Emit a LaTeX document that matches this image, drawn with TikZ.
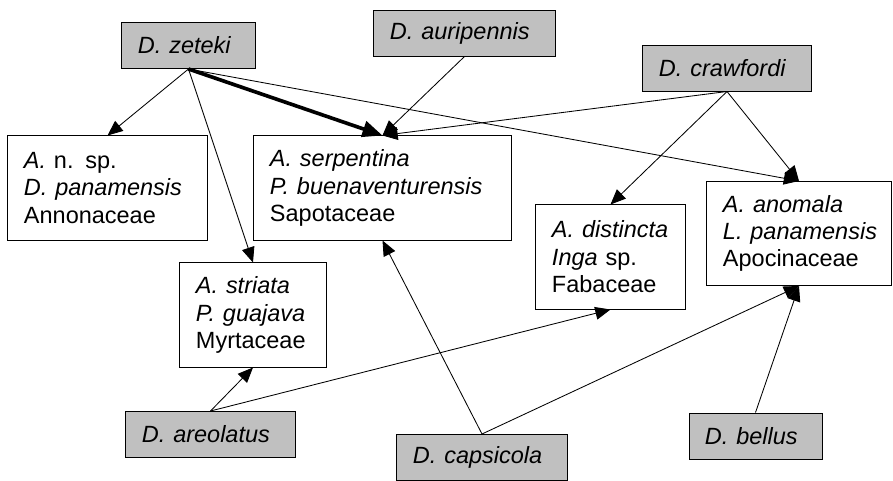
\documentclass[tikz,border=0pt]{standalone}
\usepackage{fontspec}
\setmainfont{Liberation Sans}
\usetikzlibrary{arrows.meta}

\definecolor{hostgray}{HTML}{C0C0C0}
\hyphenpenalty=10000

\tikzset{
	host/.style={draw, fill=hostgray, line width=0.7pt, align=left, text width=#1,
		minimum height=1.15cm, inner xsep=0.4cm},
	plant/.style={draw, fill=white, line width=0.7pt, align=left, text width=#1,
		minimum height=2.6cm, inner xsep=0.4cm},
	link/.style={-{Triangle[length=0.38cm,width=0.32cm]}, line width=0.6pt},
	mainlink/.style={-{Triangle[length=0.5cm,width=0.4cm]}, line width=2.6pt}
}

\begin{document}
\begin{tikzpicture}[x=0.025cm, y=-0.025cm, font=\fontsize{16.7pt}{19.5pt}\selectfont]
		\useasboundingbox (0,0) rectangle (893,480);

		% flies
		\node[host=2.525cm] (zeteki) at (188.5,45.5) {\textit{D. zeteki}};
		\node[host=3.725cm] (auripennis) at (464.5,33) {\textit{D. auripennis}};
		\node[host=3.4cm] (crawfordi) at (727,68) {\textit{D. crawfordi}};
		\node[host=3.425cm] (areolatus) at (210.5,434.5) {\textit{D. areolatus}};
		\node[host=3.45cm] (capsicola) at (482,457.5) {\textit{D. capsicola}};
		\node[host=2.525cm] (bellus) at (755.5,436) {\textit{D. bellus}};

		% host plants
		\node[plant=4.175cm] (annon) at (107.5,188) {\textit{A.} n. sp.\\ \textit{D. panamensis}\\ Annonaceae};
		\node[plant=5.625cm] (sapot) at (382.5,188) {\textit{A. serpentina}\\ \textit{P. buenaventurensis}\\ Sapotaceae};
		\node[plant=2.925cm] (fabac) at (610.5,257) {\textit{A. distincta}\\ \textit{Inga} sp.\\ Fabaceae};
		\node[plant=3.8cm] (apoc) at (799,233.5) {\textit{A. anomala}\\ \textit{L.~panamensis}\\ Apocinaceae};
		\node[plant=2.85cm] (myrt) at (253,315) {\textit{A. striata}\\ \textit{P. guajava}\\ Myrtaceae};

		\draw[link] (zeteki.south) -- (annon.north);
		\draw[link] (zeteki.south) -- (myrt.north);
		\draw[link] (zeteki.south) -- (apoc.north);
		\draw[mainlink] (zeteki.south) -- (sapot.north);
		\draw[link] (auripennis.south) -- (sapot.north);
		\draw[link] (crawfordi.south) -- (sapot.north);
		\draw[link] (crawfordi.south) -- (fabac.north);
		\draw[link] (crawfordi.south) -- (apoc.north);

		\draw[link] (areolatus.north) -- (myrt.south);
		\draw[link] (areolatus.north) -- (fabac.south);
		\draw[link] (capsicola.north) -- (sapot.south);
		\draw[link] (capsicola.north) -- (apoc.south);
		\draw[link] (bellus.north) -- (apoc.south);
	\end{tikzpicture}
\end{document}
